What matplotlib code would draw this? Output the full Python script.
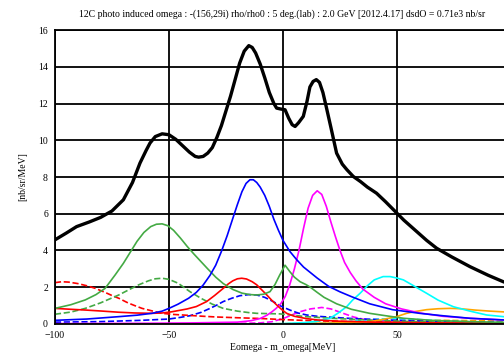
import matplotlib
matplotlib.use('Agg')
import matplotlib.pyplot as plt

# total spectrum (black)
tot_x = [-100, -95, -90.5, -85, -80, -75, -70, -66, -62.7, -60, -58.3, -56, -53, -50, -47, -44, -41,
         -38.5, -37, -35, -33, -31, -29, -27, -25, -23, -21, -19, -17, -15, -13.5, -12, -10, -8, -6,
         -4, -2.8, -1, 0.9, 2.5, 4, 5.3, 6.8, 8.9, 10.5, 11.8, 13.2, 14.6, 16, 17.5, 19, 21, 23.5,
         26, 28, 30.8, 34, 37, 41, 45, 49, 53, 58, 63, 67.4, 74, 82, 90, 96.6, 100]
tot_y = [4.58, 4.95, 5.3, 5.55, 5.8, 6.15, 6.76, 7.7, 8.76, 9.45, 9.85, 10.2, 10.35, 10.3, 10.05, 9.7,
         9.35, 9.12, 9.08, 9.12, 9.3, 9.6, 10.15, 10.8, 11.6, 12.4, 13.3, 14.2, 14.85, 15.15, 15.05,
         14.75, 14.15, 13.4, 12.6, 12.0, 11.75, 11.7, 11.66, 11.2, 10.85, 10.75, 10.95, 11.3, 12.1,
         12.9, 13.2, 13.3, 13.15, 12.6, 11.8, 10.7, 9.3, 8.7, 8.4, 8.03, 7.75, 7.45, 7.12, 6.65, 6.15,
         5.65, 5.1, 4.55, 4.12, 3.65, 3.12, 2.65, 2.3, 2.15]

green_x = [-100, -93, -86.7, -82, -78, -73.6, -70, -67, -64, -61, -58, -55.5, -53, -50.5, -48, -45,
           -42, -39, -36, -33, -29.5, -26.2, -22, -18, -14.5, -11.5, -8.5, -5.7, -3.5, -1.5, 0.9, 3, 5,
           7.5, 10, 12, 15, 18, 23.5, 30, 38, 45, 53, 65, 82, 100]
green_y = [0.85, 1.05, 1.31, 1.6, 1.94, 2.67, 3.3, 3.9, 4.5, 4.98, 5.3, 5.43, 5.45, 5.35, 5.1, 4.68,
           4.22, 3.8, 3.4, 3.0, 2.55, 2.2, 1.88, 1.68, 1.6, 1.58, 1.62, 1.76, 2.15, 2.65, 3.2, 2.85, 2.55,
           2.3, 2.15, 2.0, 1.72, 1.45, 1.1, 0.8, 0.58, 0.45, 0.31, 0.2, 0.13, 0.08]

green_d_x = [-100, -93, -86.7, -80, -72, -67, -63.3, -59, -56, -53, -50, -46, -40.8, -36, -31, -26.2,
             -20, -15, -11.5, -5, -1.3, 5, 10, 20, 30, 40, 55, 70, 85, 100]
green_d_y = [0.53, 0.65, 0.85, 1.15, 1.58, 1.9, 2.13, 2.35, 2.46, 2.49, 2.43, 2.22, 1.76, 1.4, 1.08,
             0.85, 0.7, 0.62, 0.58, 0.56, 0.55, 0.47, 0.4, 0.32, 0.26, 0.2, 0.14, 0.1, 0.07, 0.05]

red_x = [-100, -93, -86.7, -79, -72, -65, -57.5, -53, -49, -45, -42, -38, -33.5, -30, -26.2, -24,
         -22, -20, -18.1, -16, -13.5, -11.5, -9.5, -7.1, -5, -2.8, -0.5, 1.6, 5, 10, 15, 25, 40,
         60, 80, 100]
red_y = [0.85, 0.8, 0.76, 0.7, 0.64, 0.6, 0.58, 0.6, 0.66, 0.75, 0.82, 0.95, 1.22, 1.55, 1.94, 2.18,
         2.35, 2.46, 2.49, 2.45, 2.3, 2.13, 1.88, 1.58, 1.3, 1.04, 0.78, 0.58, 0.42, 0.3, 0.22, 0.15,
         0.1, 0.07, 0.05, 0.04]

red_d_x = [-100, -97, -94, -90, -86, -82.3, -78, -75, -72, -68, -65, -61.8, -57, -53, -48, -41.4,
           -35, -29, -20, -10, 0, 15, 30, 50, 75, 100]
red_d_y = [2.25, 2.3, 2.28, 2.2, 2.08, 1.94, 1.72, 1.55, 1.4, 1.15, 1.0, 0.85, 0.7, 0.58, 0.52,
           0.47, 0.42, 0.38, 0.34, 0.3, 0.24, 0.17, 0.13, 0.1, 0.07, 0.05]

blue_x = [-100, -86, -72, -64, -57.5, -53, -50, -46, -41.4, -38, -35, -32, -29.5, -27, -24.5, -22,
          -20, -18, -16.2, -14.5, -13, -11.5, -10, -8, -6, -4, -2, 0, 3, 6, 9, 12, 15, 20, 25,
          30, 38, 48, 60, 70, 82, 100]
blue_y = [0.2, 0.27, 0.4, 0.48, 0.58, 0.7, 0.85, 1.08, 1.4, 1.72, 2.12, 2.65, 3.2, 3.95, 4.8, 5.75,
          6.5, 7.2, 7.65, 7.85, 7.85, 7.7, 7.45, 7.0, 6.4, 5.7, 5.1, 4.55, 3.95, 3.5, 3.1, 2.8, 2.5,
          2.05, 1.75, 1.49, 1.1, 0.78, 0.58, 0.45, 0.31, 0.2]

blue_d_x = [-100, -80, -62, -50, -45, -40.8, -36, -32, -29, -26.2, -22.5, -18.9, -15, -11.5, -8,
            -4.3, -1, 3, 6.5, 10.4, 15, 22, 30, 40, 50, 65, 80, 100]
blue_d_y = [0.1, 0.13, 0.2, 0.27, 0.36, 0.45, 0.63, 0.85, 1.03, 1.22, 1.4, 1.54, 1.6, 1.58, 1.45,
            1.22, 0.98, 0.76, 0.6, 0.49, 0.42, 0.36, 0.3, 0.25, 0.2, 0.15, 0.11, 0.07]

mag_x = [-100, -60, -40, -25, -20, -14, -10, -7, -5, -3, -1, 1, 3, 5, 7, 9, 11, 13, 15, 17, 19,
         21, 23, 25, 27, 29.5, 32, 35, 40, 45, 52, 60, 70, 82, 100]
mag_y = [0.02, 0.04, 0.06, 0.09, 0.1, 0.18, 0.3, 0.48, 0.65, 0.85, 1.1, 1.5, 2.15, 3.0, 4.0, 5.2,
         6.3, 7.0, 7.25, 7.05, 6.4, 5.55, 4.75, 4.0, 3.35, 2.8, 2.35, 1.9, 1.45, 1.1, 0.82, 0.6,
         0.42, 0.31, 0.2]

mag_d_x = [-100, -40, -20, -10, -5, 0.2, 4, 7.5, 12, 17, 21, 26.4, 31, 36.7, 45, 60, 80, 100]
mag_d_y = [0.0, 0.01, 0.03, 0.06, 0.12, 0.3, 0.5, 0.67, 0.82, 0.9, 0.82, 0.58, 0.38, 0.22, 0.12,
           0.06, 0.03, 0.02]

cyan_x = [-100, -20, 0, 10, 15, 20.6, 24, 27.9, 30.5, 33.8, 37, 40, 43.9, 47, 50, 52.8, 57, 63,
          68, 74.7, 82, 89.3, 96.6, 100]
cyan_y = [0.0, 0.0, 0.02, 0.08, 0.15, 0.31, 0.58, 0.94, 1.3, 1.67, 2.08, 2.4, 2.58, 2.58, 2.5, 2.4,
          2.1, 1.67, 1.3, 0.94, 0.7, 0.49, 0.4, 0.35]

cyan_d_x = [-100, 0, 20, 30, 40, 48, 56, 65, 80, 100]
cyan_d_y = [0.0, 0.01, 0.05, 0.15, 0.25, 0.3, 0.27, 0.2, 0.12, 0.07]

orange_x = [-100, 0, 20, 30, 38.2, 44, 49.8, 54.2, 58, 63, 68, 73.2, 78, 84, 90.8, 96.6, 100]
orange_y = [0.0, 0.01, 0.05, 0.08, 0.13, 0.25, 0.4, 0.58, 0.68, 0.78, 0.83, 0.85, 0.83, 0.76,
            0.7, 0.66, 0.63]

orange_d_x = [-100, 20, 40, 55, 70, 85, 100]
orange_d_y = [0.0, 0.02, 0.08, 0.15, 0.2, 0.18, 0.15]

title = ('12C photo induced omega : -(156,29i) rho/rho0 : 5 deg.(lab) : 2.0 GeV '
         '[2012.4.17] dsdO = 0.71e3 nb/sr')

plt.rcParams['font.family'] = ['Liberation Serif', 'DejaVu Serif']

fig = plt.figure(figsize=(5.04, 3.56), dpi=100)
ax = fig.add_axes([0.109, 0.0899, 0.905, 0.8258])

lw = 1.2
ax.plot(orange_d_x, orange_d_y, color='#ffa500', lw=lw, ls='--')
ax.plot(cyan_d_x, cyan_d_y, color='cyan', lw=lw, ls='--')
ax.plot(mag_d_x, mag_d_y, color='magenta', lw=lw, ls='--')
ax.plot(blue_d_x, blue_d_y, color='blue', lw=lw, ls='--')
ax.plot(red_d_x, red_d_y, color='red', lw=lw, ls='--')
ax.plot(green_d_x, green_d_y, color='#44aa44', lw=lw, ls='--')
ax.plot(orange_x, orange_y, color='#ffa500', lw=lw)
ax.plot(cyan_x, cyan_y, color='cyan', lw=lw)
ax.plot(mag_x, mag_y, color='magenta', lw=lw)
ax.plot(red_x, red_y, color='red', lw=lw)
ax.plot(green_x, green_y, color='#44aa44', lw=lw)
ax.plot(blue_x, blue_y, color='blue', lw=lw)
ax.plot(tot_x, tot_y, color='black', lw=2.4)

ax.set_xlim(-100, 100)
ax.set_ylim(0, 16)
ax.set_xticks([-100, -50, 0, 50, 100])
ax.set_yticks(range(0, 17, 2))
ax.grid(True, color='black', lw=1.3)
ax.set_axisbelow(True)
ax.tick_params(length=0, labelsize=7, pad=5)
for s in ax.spines.values():
    s.set_linewidth(1.3)

ax.set_xlabel('Eomega - m_omega[MeV]', fontsize=7, labelpad=2)
ax.set_ylabel('[nb/sr/MeV]', fontsize=7, labelpad=8)
fig.text(0.56, 0.96, title, fontsize=7, ha='center', va='center')

fig.savefig('out.png', dpi=100)
